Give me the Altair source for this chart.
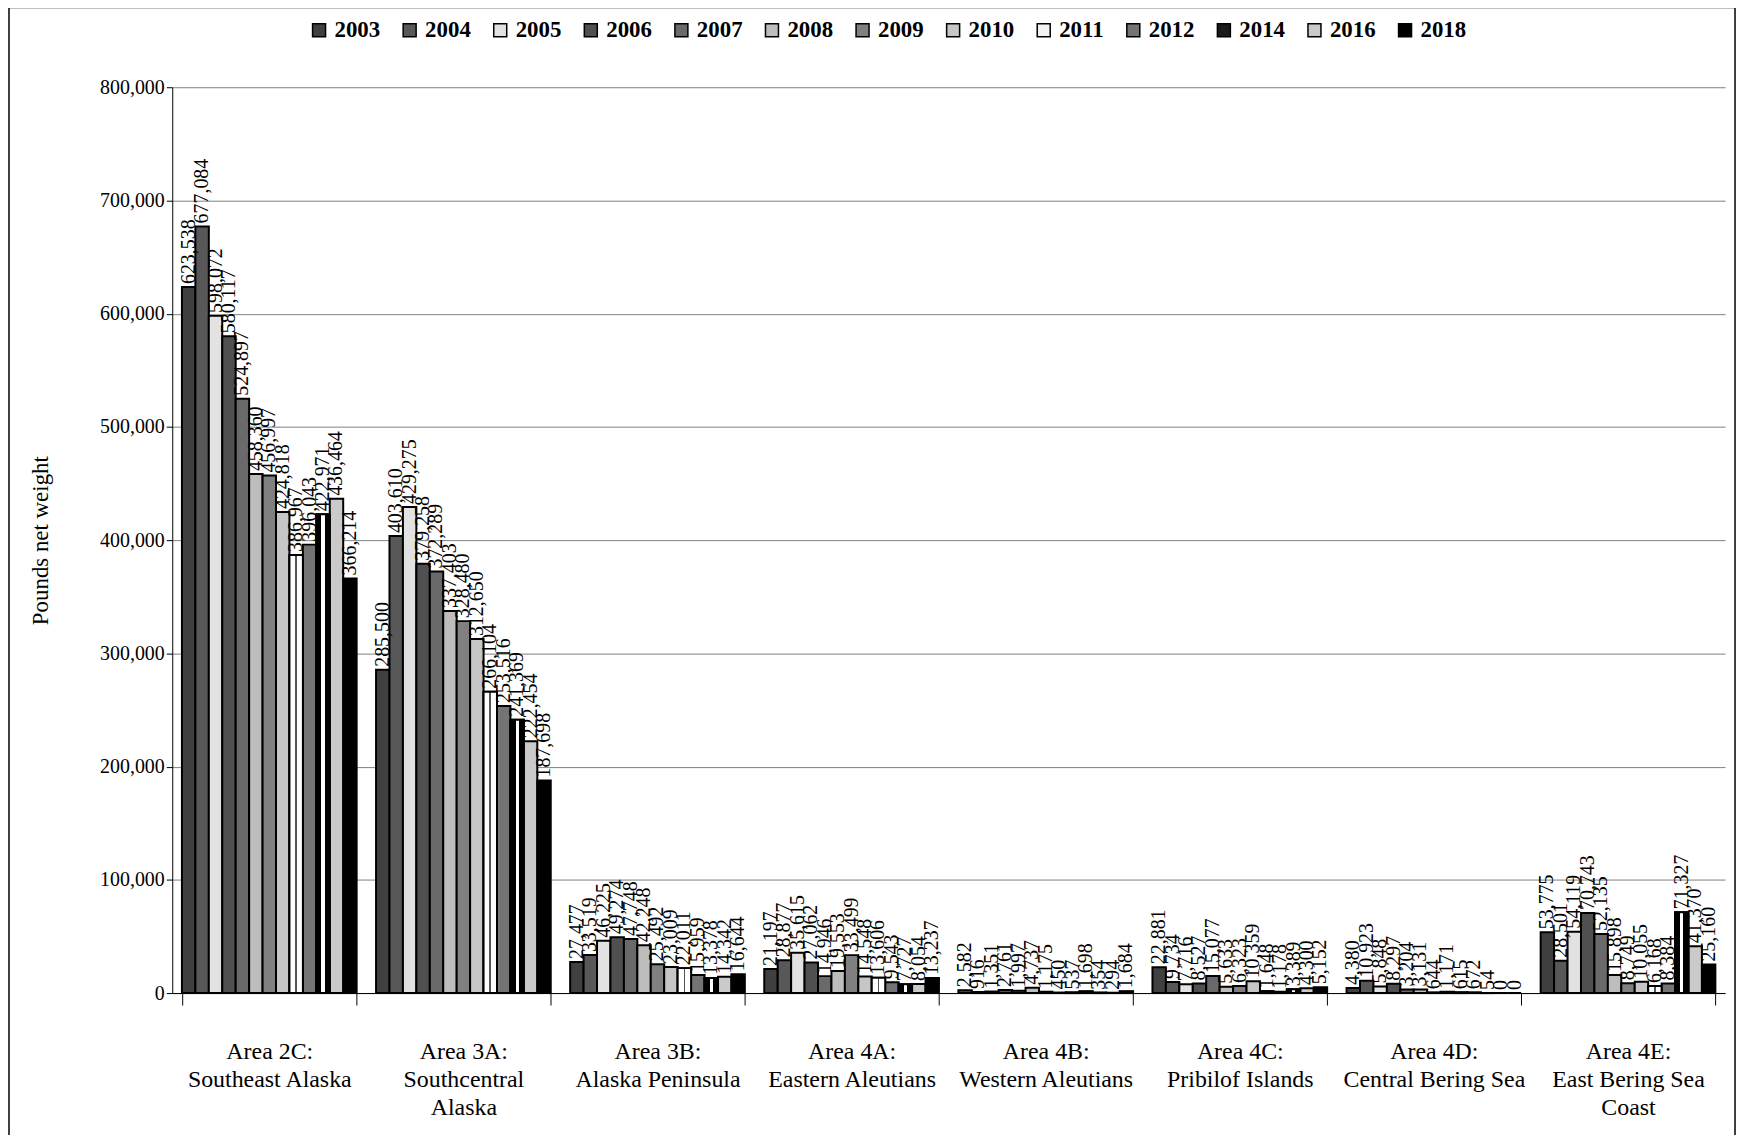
import altair as alt
import pandas as pd

areas = ["Area 2C:|Southeast Alaska", "Area 3A:|Southcentral|Alaska", "Area 3B:|Alaska Peninsula",
         "Area 4A:|Eastern Aleutians", "Area 4B:|Western Aleutians", "Area 4C:|Pribilof Islands",
         "Area 4D:|Central Bering Sea", "Area 4E:|East Bering Sea|Coast"]
years = ["2003", "2004", "2005", "2006", "2007", "2008", "2009", "2010", "2011", "2012", "2014", "2016", "2018"]

v_2C = [623538, 677084, 598072, 580117, 524897, 458360, 456997, 424818, 386967, 396043, 422971, 436464, 366214]
v_3A = [285500, 403610, 429275, 379258, 372289, 337403, 328480, 312650, 266104, 253516, 241369, 222454, 187698]
v_3B = [27477, 33519, 46225, 49274, 47748, 42248, 25492, 23009, 22011, 15959, 13378, 14342, 16644]
v_4A = [21197, 28877, 35615, 27062, 14946, 19553, 33499, 14548, 13606, 9543, 7727, 8054, 13237]
v_4B = [2582, 916, 1351, 2761, 1997, 4737, 1175, 450, 537, 1698, 354, 294, 1684]
v_4C = [22881, 9734, 7716, 8527, 15077, 5633, 6323, 10359, 1648, 1178, 3389, 4300, 5152]
v_4D = [4380, 10923, 5848, 8297, 3204, 3131, 644, 1171, 615, 672, 54, 0, 0]
v_4E = [53775, 28501, 54119, 70743, 52135, 15898, 8749, 10055, 6168, 8384, 71327, 41370, 25160]

series = [v_2C, v_3A, v_3B, v_4A, v_4B, v_4C, v_4D, v_4E]
fills = ["#404040", "#585858", "#e2e2e2", "#505050", "#6a6a6a", "#bdbdbd", "#808080",
         "#c6c6c6", "#f2f2f2", "#747474", "#1a1a1a", "#cacaca", "#000000"]

rows = []
for a, vals in zip(areas, series):
    for y, v in zip(years, vals):
        rows.append({"area": a, "year": y, "value": v})
df = pd.DataFrame(rows)

FONT = "Liberation Serif"

x_enc = alt.X("area:N", sort=areas,
              scale=alt.Scale(paddingInner=0.1, paddingOuter=0.05),
              axis=alt.Axis(title=None, labelAngle=0, labelExpr="split(datum.label, '|')",
                            tickBand="extent", tickSize=12, labelPadding=35,
                            labelFontSize=24, labelLineHeight=28, labelFont=FONT,
                            labelLimit=400,
                            labelColor="black", domainColor="black", tickColor="black",
                            grid=False))
xo_enc = alt.XOffset("year:N", sort=years, scale=alt.Scale(paddingInner=0, paddingOuter=0))
y_enc = alt.Y("value:Q", scale=alt.Scale(domain=[0, 800000], nice=False),
              axis=alt.Axis(title="Pounds net weight",
                            labelExpr="format(datum.value, ',')",
                            values=list(range(0, 800001, 100000)),
                            grid=True, gridColor="#808080", gridWidth=1,
                            tickSize=6, tickColor="black", domainColor="black",
                            labelFontSize=20, labelFont=FONT, labelColor="black",
                            titleFontSize=23, titleFont=FONT, titleFontWeight="normal",
                            titleColor="black", titlePadding=47))

base = alt.Chart(df)

bars = base.mark_bar(stroke="black", strokeWidth=2).encode(
    x=x_enc, xOffset=xo_enc, y=y_enc,
    fill=alt.Fill("year:N", sort=years,
                  scale=alt.Scale(domain=years, range=fills),
                  legend=alt.Legend(title=None, orient="none", direction="horizontal",
                                    legendX=136, legendY=-69, columns=13,
                                    symbolType="square", symbolSize=170,
                                    symbolStrokeColor="black", symbolStrokeWidth=1.5,
                                    labelFont=FONT, labelFontSize=23, labelFontWeight="bold",
                                    labelColor="black", columnPadding=18, labelOffset=4))
)

stripe_2014 = alt.Gradient(gradient="linear", x1=0, x2=1, y1=0, y2=0, stops=[
    alt.GradientStop(offset=0, color="black"), alt.GradientStop(offset=0.38, color="black"),
    alt.GradientStop(offset=0.38, color="white"), alt.GradientStop(offset=0.62, color="white"),
    alt.GradientStop(offset=0.62, color="black"), alt.GradientStop(offset=1, color="black")])
stripe_2011 = alt.Gradient(gradient="linear", x1=0, x2=1, y1=0, y2=0, stops=[
    alt.GradientStop(offset=0, color="white"), alt.GradientStop(offset=0.44, color="white"),
    alt.GradientStop(offset=0.44, color="#555555"), alt.GradientStop(offset=0.56, color="#555555"),
    alt.GradientStop(offset=0.56, color="white"), alt.GradientStop(offset=1, color="white")])

over_2014 = base.transform_filter(alt.datum.year == "2014").mark_bar(
    fill=stripe_2014, stroke="black", strokeWidth=2).encode(x=x_enc, xOffset=xo_enc, y=y_enc)
over_2011 = base.transform_filter(alt.datum.year == "2011").mark_bar(
    fill=stripe_2011, stroke="black", strokeWidth=2).encode(x=x_enc, xOffset=xo_enc, y=y_enc)

labels = base.mark_text(angle=270, align="left", baseline="middle", dx=3,
                        font=FONT, fontSize=20, color="black").encode(
    x=x_enc, xOffset=xo_enc, y=y_enc,
    text=alt.Text("value:Q", format=",")
)

frame = alt.Chart(pd.DataFrame({"a": [0]})).mark_rect(
    fillOpacity=0, stroke="black", strokeWidth=1.5).encode(
    x=alt.value(-164), x2=alt.value(1570), y=alt.value(-80), y2=alt.value(1200)
)

chart = alt.layer(bars, over_2014, over_2011, labels, frame).properties(
    width=1560, height=910,
    autosize=alt.AutoSizeParams(type="none"),
    padding={"left": 165, "top": 77, "right": 14, "bottom": 140}
).configure_view(strokeWidth=0)

chart.save("out.html", embed_options={"renderer": "svg", "actions": False})
